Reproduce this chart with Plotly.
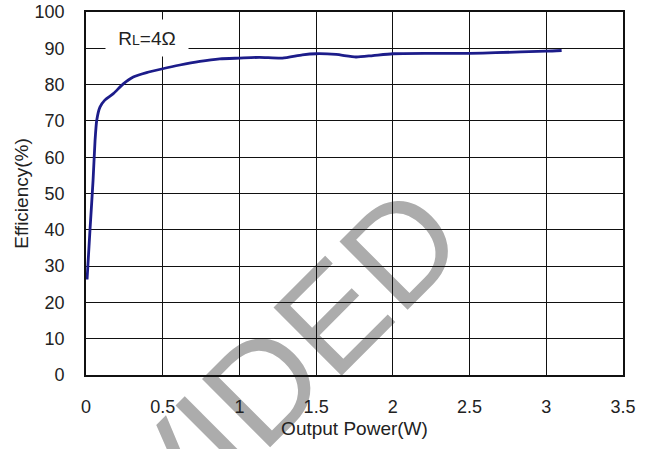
import plotly.graph_objects as go

# Efficiency curve (Output Power in W, Efficiency in %)
power_w = [0.007, 0.026, 0.046, 0.059, 0.070, 0.091, 0.124, 0.178, 0.243, 0.308,
           0.395, 0.493, 0.612, 0.742, 0.872, 1.00, 1.13, 1.28, 1.41, 1.50,
           1.63, 1.76, 1.87, 2.00, 2.24, 2.50, 2.67, 3.00, 3.10]
efficiency = [26.3, 40.0, 53.6, 64.6, 70.2, 73.8, 75.8, 77.5, 80.2, 82.1,
              83.3, 84.3, 85.4, 86.4, 87.1, 87.3, 87.5, 87.3, 88.2, 88.5,
              88.3, 87.6, 88.0, 88.5, 88.6, 88.6, 88.8, 89.2, 89.4]

x_ticks = [0, 0.5, 1, 1.5, 2, 2.5, 3, 3.5]
x_tick_labels = ["0", "0.5", "1", "1.5", "2", "2.5", "3", "3.5"]
y_ticks = [0, 10, 20, 30, 40, 50, 60, 70, 80, 90, 100]

label_text = "R<span style='font-size:14px'>L</span>=4Ω"
watermark_text = "PROVIDED"

FONT = "Liberation Sans, Arial, sans-serif"
TXT = "#222222"

fig = go.Figure()
fig.add_trace(go.Scatter(
    x=power_w, y=efficiency, mode="lines",
    line=dict(color="#1c1c8a", width=2.8, shape="spline", smoothing=0.6),
    showlegend=False, hoverinfo="skip",
))

fig.add_annotation(
    x=0.40, y=92.8, xref="x", yref="y", text=label_text, showarrow=False,
    font=dict(family=FONT, size=19, color=TXT),
    bgcolor="white", width=80, height=34,
)

# watermark (drawn below grid)
fig.add_shape(
    type="rect", xref="paper", yref="paper",
    x0=0.1046, x1=0.2046, y0=-0.288, y1=-0.188,
    line=dict(width=0), fillcolor="rgba(0,0,0,0)", layer="below",
    label=dict(text=watermark_text, textangle=-45, textposition="middle center",
               font=dict(family=FONT, size=140, color="#acacac")),
)

fig.update_layout(
    width=653, height=449,
    margin=dict(l=86, r=30, t=12, b=74, autoexpand=False),
    paper_bgcolor="white", plot_bgcolor="white",
    font=dict(family=FONT, size=18, color=TXT),
)
fig.update_xaxes(
    range=[0, 3.5], tickvals=x_ticks, ticktext=x_tick_labels,
    showgrid=True, gridcolor="#111111", gridwidth=1.2,
    showline=True, linecolor="#111111", linewidth=1.6, mirror=True,
    zeroline=False, ticks="", ticklabelstandoff=15, automargin=False,
    title=dict(text="Output Power(W)", font=dict(size=19), standoff=5),
)
fig.update_yaxes(
    range=[0, 100], tickvals=y_ticks,
    showgrid=True, gridcolor="#111111", gridwidth=1.2,
    showline=True, linecolor="#111111", linewidth=1.6, mirror=True,
    zeroline=False, ticks="", ticklabelstandoff=16, automargin=False,
    title=dict(text="Efficiency(%)", font=dict(size=19), standoff=1),
)

fig.write_html("out.html")
